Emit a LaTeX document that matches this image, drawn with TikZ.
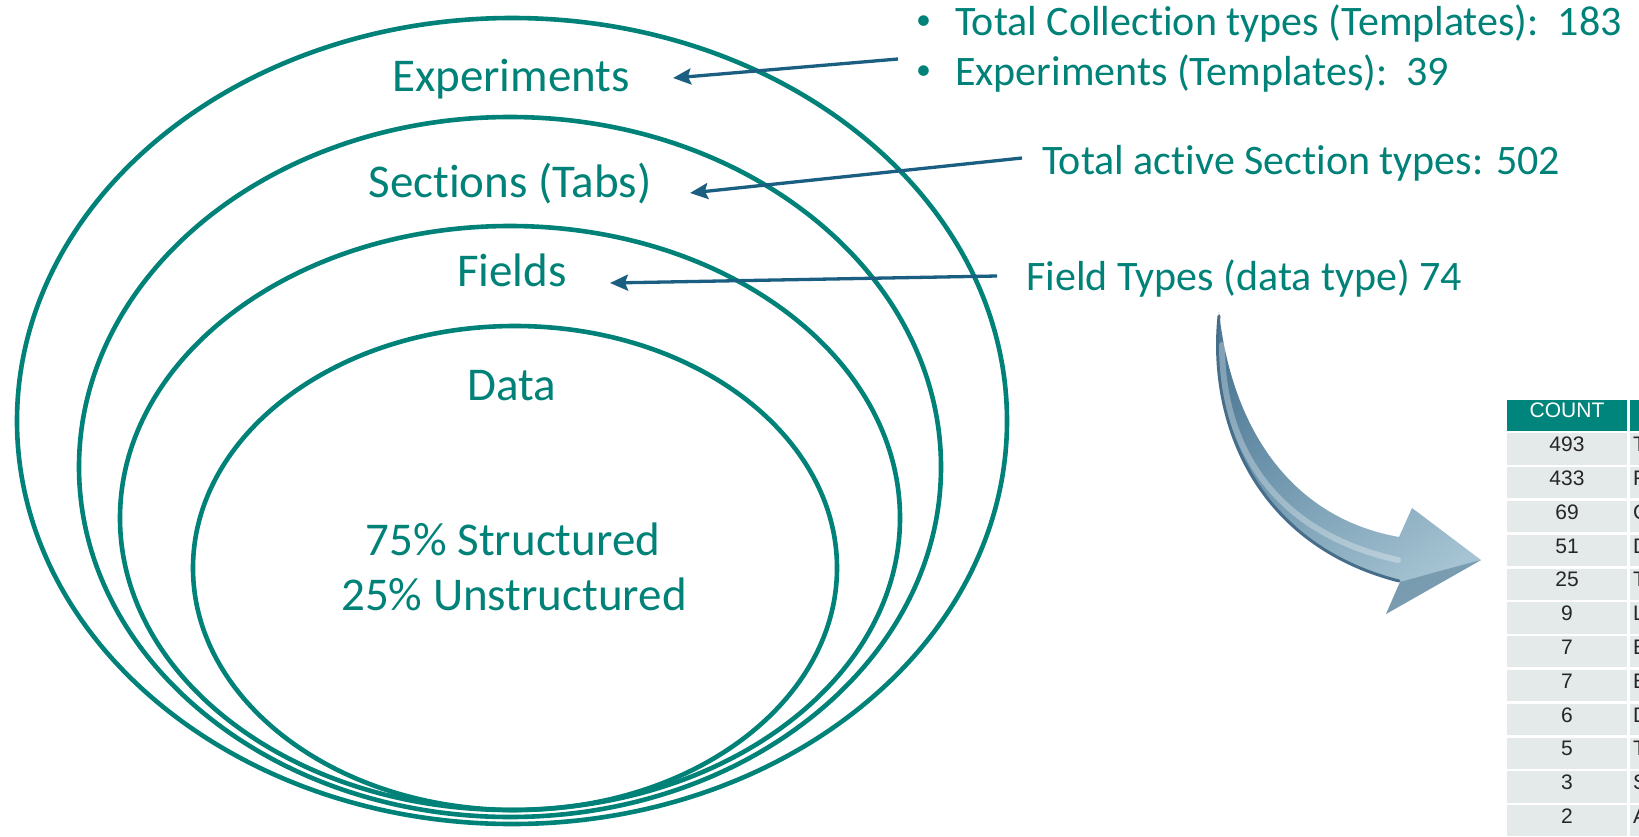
\documentclass[tikz,border=0pt]{standalone}
\usepackage{fontspec}
\setmainfont{Carlito}[Ligatures=NoCommon]
\newfontfamily\tablefont{Liberation Sans}
\usetikzlibrary{arrows.meta}
\definecolor{tealc}{RGB}{0,130,120}
\definecolor{arrowc}{RGB}{26,94,130}
\definecolor{hdr}{RGB}{0,133,124}
\definecolor{rowc}{RGB}{228,233,233}
\definecolor{steelA}{RGB}{78,122,150}
\definecolor{steelB}{RGB}{165,195,210}
\definecolor{steelD}{RGB}{70,110,138}
\newcommand{\smallbul}{\raisebox{0.12em}{\fontsize{30}{30}\selectfont •}}
\begin{document}
\begin{tikzpicture}[x=1pt,y=-1pt,
  ring/.style={draw=tealc,line width=4.6pt},
  lbl/.style={text=tealc,font=\fontsize{47}{56}\selectfont,inner sep=0pt,anchor=base},
  note/.style={text=tealc,font=\fontsize{42}{50}\selectfont,inner sep=0pt,anchor=base west},
  pointer/.style={draw=arrowc,line width=3.3pt,-{Stealth[length=18pt,width=16pt,inset=3pt]}},
  cellc/.style={fill=rowc,draw=none},
  num/.style={font=\tablefont\fontsize{21}{24}\selectfont,text=black!85,inner sep=0pt,anchor=base},
  first/.style={font=\tablefont\fontsize{21}{24}\selectfont,text=black!85,inner sep=0pt,anchor=base west},
]
\useasboundingbox (0,0) rectangle (1639,836);
\fill[white] (0,0) rectangle (1639,836);

% nested ellipses
\draw[ring] (512,421) ellipse [x radius=495pt, y radius=403pt];
\draw[ring] (510,467) ellipse [x radius=431pt, y radius=350pt];
\draw[ring] (510,518) ellipse [x radius=390pt, y radius=292pt];
\draw[ring] (515,568) ellipse [x radius=322pt, y radius=242pt];

% labels
\node[lbl] (exp) at (511,91) {Experiments};
\node[lbl] (sec) at (510,197) {Sections (Tabs)};
\node[lbl] (fld) at (512,286) {Fields};
\node[lbl] (dat) at (512,400) {Data};
\node[lbl] (st1) at (513,555) {75\% Structured};
\node[lbl] (st2) at (514,610) {25\% Unstructured};

% notes on the right
\node[note] (n1) at (916,35) {\makebox[39pt][l]{\smallbul}Total Collection types (Templates):~~183};
\node[note] (n2) at (916,85) {\makebox[39pt][l]{\smallbul}Experiments (Templates):~~39};
\node[note] (n3) at (1042,174) {Total active Section types: 502};
\node[note] (n4) at (1026,290) {Field Types (data type) 74};

% pointers
\coordinate (a1s) at (898,59);  \coordinate (a1e) at (673,78);
\coordinate (a2s) at (1022,158); \coordinate (a2e) at (690,193);
\coordinate (a3s) at (997,276); \coordinate (a3e) at (610,283);
\draw[pointer] (a1s) -- (a1e);
\draw[pointer] (a2s) -- (a2e);
\draw[pointer] (a3s) -- (a3e);

% curved 3D arrow
\shade[left color=steelA, right color=steelB, shading angle=35]
  (1219,312) .. controls (1208,425) and (1258,545) .. (1400,582)
  -- (1386,614) -- (1481,560) -- (1412,508) -- (1399,537)
  .. controls (1292,518) and (1232,430) .. (1219,312) -- cycle;
\draw[steelD, line width=3pt, line cap=round]
  (1219,316) .. controls (1208,425) and (1258,545) .. (1399,581);
\draw[white, opacity=0.3, line width=6pt, line cap=round]
  (1222,345) .. controls (1222,445) and (1272,532) .. (1398,560);
\fill[steelD, opacity=0.45] (1400,582) -- (1386,614) -- (1481,560) -- (1440,571) -- cycle;

% table
\begin{scope}
\clip (0,0) rectangle (1639,836);
\fill[hdr] (1507,400) rectangle (1627.3,431);
\fill[hdr] (1630,400) rectangle (1645,431);
\node[num, text=white] (hcount) at (1567,417) {COUNT};
\foreach \i/\n/\l in {0/493/T,1/433/F,2/69/C,3/51/D,4/25/T,5/9/L,6/7/E,7/7/E,8/6/D,9/5/T,10/3/S,11/2/A} {
  \fill[cellc] (1507,{433.3+33.8*\i}) rectangle (1627.3,{433.3+33.8*\i+31.3});
  \fill[cellc] (1630,{433.3+33.8*\i}) rectangle (1645,{433.3+33.8*\i+31.3});
  \node[num] (c\i) at (1567,{433.3+33.8*\i+18.4}) {\n};
  \node[first] (d\i) at (1633,{433.3+33.8*\i+18.4}) {\l};
}
\end{scope}
\end{tikzpicture}
\end{document}
